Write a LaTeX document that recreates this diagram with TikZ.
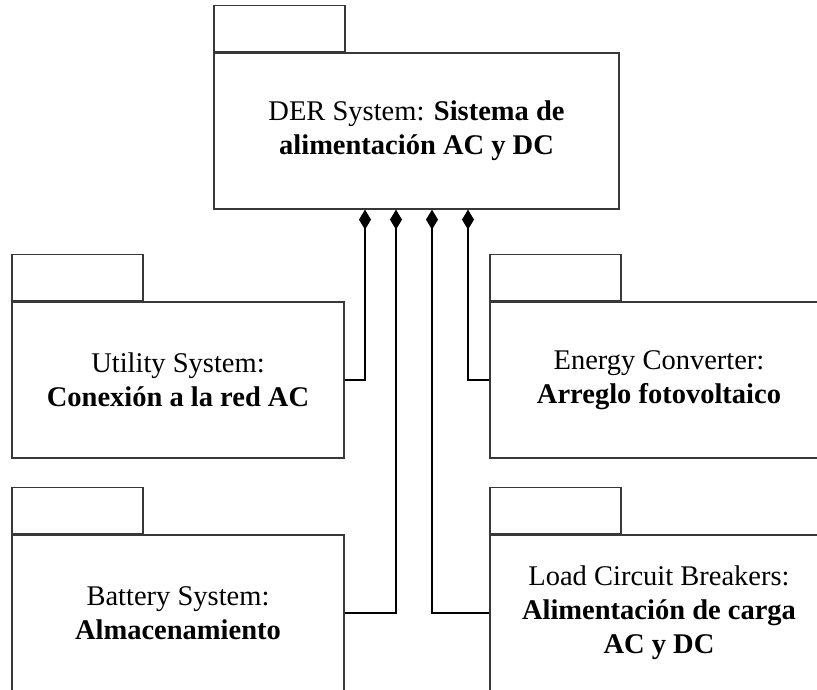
\documentclass[tikz,border=0pt]{standalone}
\usepackage{fontspec}
\setmainfont{Liberation Serif}
\usetikzlibrary{arrows.meta,calc}
\begin{document}
\begin{tikzpicture}[x=1pt,y=-1pt,
  pkgline/.style={draw=black!78, line width=1.3pt},
  pkgbody/.style={pkgline, rectangle, fill=white, inner sep=0pt, align=center,
    minimum height=156pt, font=\fontsize{28.5}{34}\selectfont},
  pkgtab/.style={pkgline, rectangle, inner sep=0pt, minimum width=131pt,
    minimum height=46pt, anchor=south west},
  compose/.style={draw=black, line width=1.3pt,
    -{Diamond[length=20pt,width=12pt]}}
]
\clip (0,0) rectangle (817,690);

% whole system package
\node[pkgbody, minimum width=405pt] (der) at (416.5,131)
  {DER System: \textbf{Sistema de}\\\textbf{alimentación AC y DC}};
\node[pkgtab] (dertab) at (der.north west) {};

% part packages
\node[pkgbody, minimum width=332pt] (util) at (178,380)
  {Utility System:\\\textbf{Conexión a la red AC}};
\node[pkgtab] (utiltab) at (util.north west) {};

\node[pkgbody, minimum width=338pt] (conv) at (659,380)
  {Energy Converter:\\\textbf{Arreglo fotovoltaico}};
\node[pkgtab] (convtab) at (conv.north west) {};

\node[pkgbody, minimum width=332pt] (bat) at (178,613)
  {Battery System:\\\textbf{Almacenamiento}};
\node[pkgtab] (battab) at (bat.north west) {};

\node[pkgbody, minimum width=338pt] (load) at (659,613)
  {Load Circuit Breakers:\\\textbf{Alimentación de carga}\\\textbf{AC y DC}};
\node[pkgtab] (loadtab) at (load.north west) {};

% composition attachment points on the system package
\coordinate (p1) at ($(der.south)+(-51.5,0)$);
\coordinate (p2) at ($(der.south)+(-20.5,0)$);
\coordinate (p3) at ($(der.south)+(15.5,0)$);
\coordinate (p4) at ($(der.south)+(51.5,0)$);

% composition links
\draw[compose] (util.east) -| (p1);
\draw[compose] (bat.east) -| (p2);
\draw[compose] (load.west) -| (p3);
\draw[compose] (conv.west) -| (p4);
\end{tikzpicture}
\end{document}
